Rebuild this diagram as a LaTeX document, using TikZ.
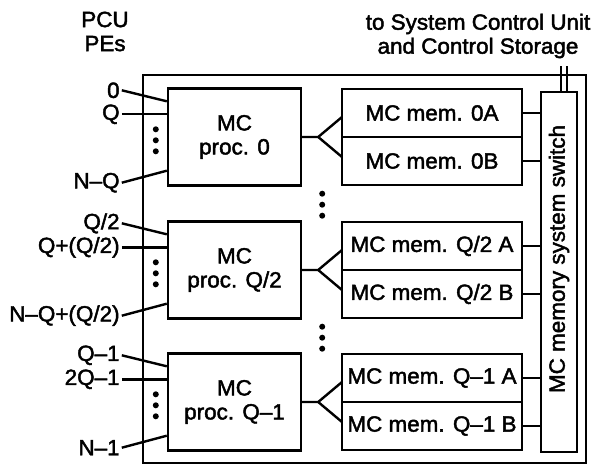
\documentclass[tikz,border=0pt]{standalone}
\usepackage{fontspec}
\setmainfont[FakeBold=2,FakeStretch=1.02]{Liberation Sans}
\usetikzlibrary{positioning}

\begin{document}
\begin{tikzpicture}[x=1pt, y=1pt, line width=2.4pt,
    font=\fontsize{22}{24}\selectfont,
    procbox/.style={draw, minimum width=133pt, minimum height=97pt, align=center, inner sep=0pt},
    membox/.style={draw, minimum width=180pt, minimum height=48pt, inner sep=0pt, outer sep=0pt},
    pelabel/.style={anchor=east, inner sep=1pt}]
  \useasboundingbox (0,0) rectangle (593,469);
  % cabinet and memory switch
  \node[draw, minimum width=443pt, minimum height=388pt, inner sep=0pt] (cab) at (364.5,200) {};
  \node[draw, minimum width=36pt, minimum height=360pt, inner sep=0pt] (sw) at (559,197) {};
  \node[rotate=90] (swtext) at ([yshift=13pt]sw.center) {MC memory system switch};
  % headings
  \node[align=center] (pcu) at (105,437.5) {PCU\\PEs};
  \node[align=center] (scu) at (478,433) {to System Control Unit\\and Control Storage};
  \draw ([xshift=2pt]sw.north) -- ++(0,25);
  \draw ([xshift=8pt]sw.north) -- ++(0,25);
  % MC processors
  \node[procbox] (p0) at (234.5,332) {MC\\proc. 0};
  \node[procbox] (p1) at (234.5,199) {MC\\proc. Q/2};
  \node[procbox] (p2) at (234.5,67) {MC\\proc. Q--1};
  % MC memories
  \node[membox] (m0a) at (432,356) {MC mem. 0A};
  \node[membox, below=0pt of m0a] (m0b) {MC mem. 0B};
  \node[membox] (m1a) at (432,223) {MC mem. Q/2 A};
  \node[membox, below=0pt of m1a] (m1b) {MC mem. Q/2 B};
  \node[membox] (m2a) at (432,91) {MC mem. Q--1 A};
  \node[membox, below=0pt of m2a] (m2b) {MC mem. Q--1 B};
  \foreach \g in {0,1,2} {
    \draw (p\g.east) -- ++(16,0) coordinate (fork) -- ([yshift=20pt]m\g b.north west);
    \draw (fork) -- ([yshift=-20pt]m\g b.north west);
  }
  \foreach \m in {m0a,m0b,m1a,m1b,m2a,m2b}
    \draw (\m.east) -- (\m.east -| sw.west);
  % PCU PE inputs
  \node[pelabel] (pe0a) at ([xshift=-45pt, yshift=-3pt]p0.north west) {0};
  \node[pelabel] (pe0b) at ([xshift=-45pt, yshift=-27pt]p0.north west) {Q};
  \node[pelabel] (pe0c) at ([xshift=-45pt, yshift=4pt]p0.south west) {N--Q};
  \node[pelabel] (pe1a) at ([xshift=-45pt, yshift=-3pt]p1.north west) {Q/2};
  \node[pelabel] (pe1b) at ([xshift=-45pt, yshift=-27pt]p1.north west) {Q+(Q/2)};
  \node[pelabel] (pe1c) at ([xshift=-45pt, yshift=4pt]p1.south west) {N--Q+(Q/2)};
  \node[pelabel] (pe2a) at ([xshift=-45pt, yshift=-3pt]p2.north west) {Q--1};
  \node[pelabel] (pe2b) at ([xshift=-45pt, yshift=-27pt]p2.north west) {2Q--1};
  \node[pelabel] (pe2c) at ([xshift=-45pt, yshift=4pt]p2.south west) {N--1};
  \foreach \g in {0,1,2} {
    \draw (pe\g a.east) -- ([yshift=-14pt]p\g.north west);
    \draw (pe\g b.east) -- (pe\g b.east -| p\g.west);
    \draw (pe\g c.east) -- ([yshift=16pt]p\g.south west);
    \foreach \d in {42,53,64}
      \fill (p\g.north west) ++(-11,-\d) circle (3pt);
  }
  \foreach \g in {0,1}
    \foreach \d in {7,18,29}
      \fill (p\g.south east) ++(20,-\d) circle (3pt);
\end{tikzpicture}
\end{document}
